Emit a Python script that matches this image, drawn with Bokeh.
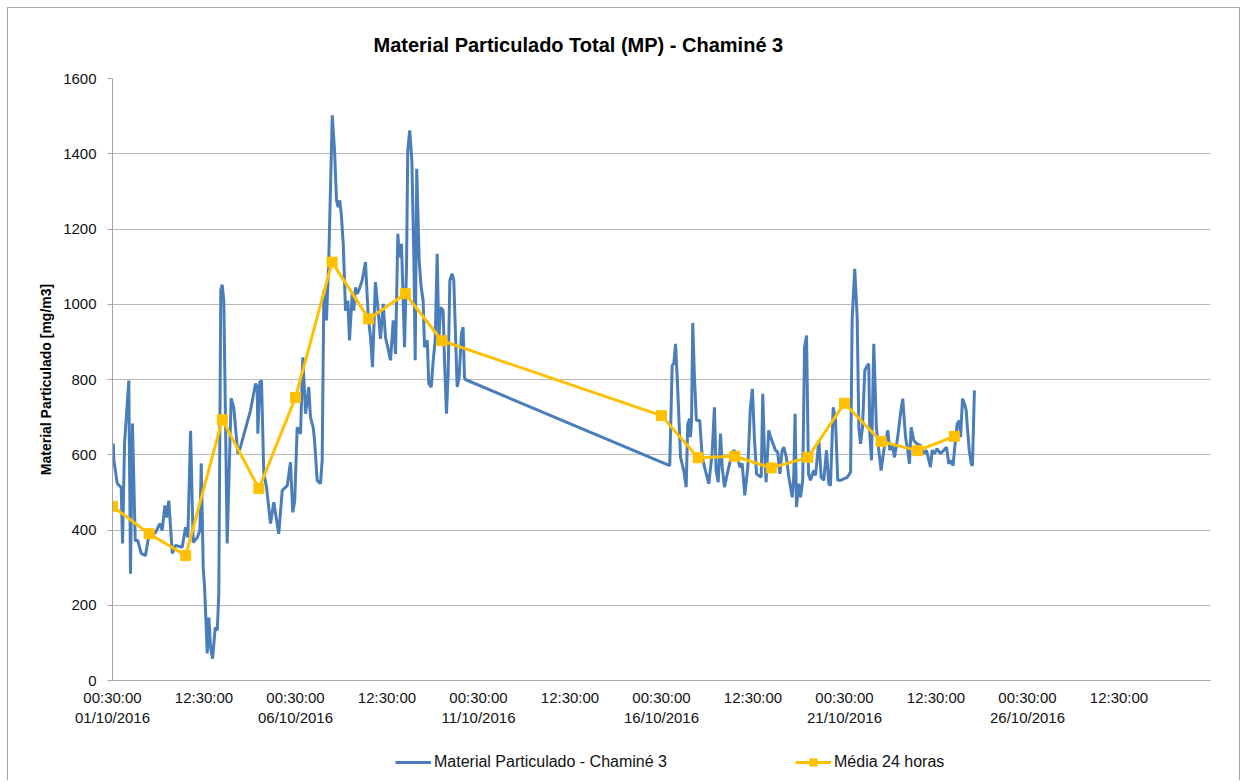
from bokeh.plotting import figure
from bokeh.layouts import column
from bokeh.models import FixedTicker, Legend, LegendItem, Range1d
from bokeh.embed import file_html
from bokeh.resources import INLINE

# Hours since 01/10/2016 00:30:00
hours = [
    0.5, 0.9, 3.1, 5.7, 6.6, 7.9, 10.7, 11.8, 13.1, 14.9,
    16.6, 18.8, 21.6, 23.8, 28.2, 31.0, 32.6, 34.3, 35.4, 36.9,
    39.2, 41.3, 45.7, 47.9, 49.4, 51.2, 52.9, 55.6, 57.3, 58.2,
    59.5, 60.4, 62.1, 63.2, 64.3, 65.6, 67.4, 68.7, 69.7, 71.0,
    71.9, 73.0, 75.2, 77.8, 79.5, 82.2, 83.9, 90.5, 93.8, 94.9,
    95.3, 96.6, 97.7, 99.2, 101.0, 103.6, 105.8, 107.3, 109.0, 111.3,
    114.6, 116.7, 118.2, 119.5, 121.1, 123.3, 124.8, 126.6, 128.7, 129.8,
    131.6, 132.5, 134.2, 136.4, 137.5, 138.6, 140.3, 141.8, 144.1, 145.6,
    146.9, 148.0, 149.0, 150.0, 151.3, 152.8, 154.3, 155.4, 157.2, 158.2,
    159.3, 160.5, 162.2, 163.7, 165.9, 167.7, 169.2, 170.5, 172.4, 174.0,
    175.7, 177.5, 179.0, 180.5, 182.3, 184.1, 185.6, 187.1, 188.2, 189.5,
    191.5, 192.8, 193.6, 194.9, 196.3, 197.6, 198.5, 199.5, 201.1, 202.4,
    203.7, 204.6, 206.4, 207.4, 209.0, 210.3, 211.6, 212.9, 214.0, 215.1,
    216.8, 217.7, 219.0, 220.1, 221.2, 222.7, 223.8, 224.9, 226.0, 227.3,
    228.8, 229.9, 230.8, 231.3, 365.4, 367.0, 368.1, 369.2, 370.3, 372.5,
    374.6, 376.2, 377.2, 378.4, 379.0, 379.7, 380.5, 381.6, 382.9, 385.1,
    386.7, 388.8, 391.0, 393.2, 394.7, 395.8, 397.2, 398.7, 399.8, 401.3,
    403.1, 405.2, 407.4, 409.6, 411.3, 412.9, 414.6, 416.6, 418.3, 419.6,
    420.9, 422.3, 423.8, 425.4, 426.4, 427.5, 428.6, 430.3, 431.5, 433.2,
    434.7, 436.2, 437.6, 439.1, 440.2, 441.9, 443.5, 444.6, 445.7, 446.7,
    447.6, 448.5, 450.0, 451.2, 452.6, 453.8, 455.1, 456.4, 457.7, 459.8,
    461.0, 463.2, 464.7, 466.4, 468.2, 469.7, 470.8, 472.6, 474.1, 475.6,
    477.4, 479.6, 481.8, 484.0, 485.0, 486.7, 488.3, 489.4, 490.5, 491.8,
    493.3, 494.4, 495.9, 496.6, 497.7, 499.2, 500.9, 502.5, 504.0, 505.8,
    508.4, 509.7, 511.2, 512.8, 514.9, 516.7, 518.2, 520.0, 521.5, 522.6,
    523.7, 525.4, 527.6, 529.8, 532.0, 533.7, 535.3, 536.4, 537.5, 539.0,
    540.7, 542.9, 545.1, 546.9, 548.4, 549.5, 551.2, 552.1, 553.9, 555.4,
    556.1, 557.4, 558.7, 559.8, 560.4, 561.8, 563.1, 563.9, 565.2,
]

mp_values = [
    630, 585, 524, 513, 364, 630, 797, 284, 683, 372,
    372, 338, 332, 385, 393, 417, 399, 465, 433, 478,
    338, 359, 354, 407, 380, 664, 367, 380, 399, 577,
    300, 247, 72, 167, 88, 58, 141, 133, 231, 1037,
    1052, 1010, 364, 750, 726, 603, 620, 718, 789, 780,
    656, 793, 797, 550, 514, 417, 474, 434, 390, 505,
    518, 580, 447, 478, 673, 656, 859, 709, 780, 700,
    673, 638, 532, 523, 585, 1037, 957, 1116, 1502, 1409,
    1276, 1258, 1276, 1240, 1161, 983, 1010, 904, 1028, 983,
    1045, 1028, 1045, 1063, 1112, 966, 912, 833, 1059, 992,
    908, 1001, 912, 886, 851, 957, 868, 1187, 1125, 1161,
    886, 1099, 1409, 1462, 1382, 1125, 851, 1360, 1116, 1045,
    1010, 886, 904, 789, 780, 851, 904, 1134, 904, 992,
    983, 851, 709, 815, 1063, 1081, 1063, 921, 780, 806,
    921, 939, 806, 800, 571, 837, 843, 895, 806, 593,
    558, 514, 682, 696, 647, 691, 950, 806, 691, 691,
    593, 558, 523, 603, 726, 558, 527, 656, 567, 514,
    549, 585, 612, 603, 567, 577, 492, 567, 726, 775,
    647, 549, 545, 540, 762, 612, 527, 665, 647, 629,
    612, 607, 549, 612, 620, 593, 540, 514, 487, 540,
    709, 461, 523, 487, 532, 886, 917, 549, 532, 558,
    545, 638, 540, 532, 612, 523, 518, 726, 691, 532,
    532, 536, 540, 554, 957, 1094, 966, 673, 629, 673,
    824, 833, 842, 656, 585, 895, 673, 612, 558, 612,
    665, 612, 630, 593, 647, 709, 749, 647, 612, 576,
    673, 638, 629, 625, 603, 612, 585, 567, 612, 603,
    616, 603, 612, 620, 576, 585, 571, 612, 682, 691,
    647, 749, 735, 718, 682, 612, 576, 571, 771,
]

avg_hours = [0, 24, 48, 72, 96, 120, 144, 168, 192, 216,
             360, 384, 408, 432, 456, 480, 504, 528, 552]
avg_values = [463, 390, 332, 693, 510, 752, 1112, 961, 1028, 903,
              704, 592, 596, 565, 593, 737, 635, 611, 649]

tick_hours = [0, 60, 120, 180, 240, 300, 360, 420, 480, 540, 600, 660]
tick_labels = ["00:30:00\n01/10/2016", "12:30:00",
               "00:30:00\n06/10/2016", "12:30:00",
               "00:30:00\n11/10/2016", "12:30:00",
               "00:30:00\n16/10/2016", "12:30:00",
               "00:30:00\n21/10/2016", "12:30:00",
               "00:30:00\n26/10/2016", "12:30:00"]

title_text = "Material Particulado Total (MP) - Chaminé 3"
y_label = "Material Particulado [mg/m3]"
series_names = ["Material Particulado - Chaminé 3", "Média 24 horas"]

FONT = "Liberation Sans"
BLUE = "#4a7ebb"
YELLOW = "#ffc000"
GRID = "#b8b8b8"
W = 1231

p = figure(width=W, height=732, output_backend="svg", toolbar_location=None,
           x_range=Range1d(0, 720), y_range=Range1d(0, 1600),
           min_border_left=104, min_border_right=29, min_border_top=70,
           min_border_bottom=60)
p.background_fill_color = "white"
p.border_fill_color = "white"
p.outline_line_color = None

p.title.text = title_text
p.title.text_font = FONT
p.title.text_font_size = "20px"
p.title.text_font_style = "bold"
p.title.text_color = "#000000"
p.title.align = "left"
p.title.offset = 261
p.title.standoff = 46

p.line(hours, mp_values, line_color=BLUE, line_width=3)
p.line(avg_hours, avg_values, line_color=YELLOW, line_width=3)
p.scatter(avg_hours, avg_values, marker="square", size=10,
          fill_color=YELLOW, line_color=YELLOW)

xa = p.xaxis[0]
xa.ticker = FixedTicker(ticks=tick_hours)
xa.major_label_overrides = {t: l for t, l in zip(tick_hours, tick_labels)}
xa.major_tick_out = 0
xa.major_tick_in = 0
xa.minor_tick_out = 0
xa.minor_tick_in = 0
xa.axis_line_color = "#a6a6a6"
xa.major_label_text_font = FONT
xa.major_label_text_font_size = "15px"
xa.major_label_text_color = "#111111"
xa.major_label_standoff = 8

ya = p.yaxis[0]
ya.ticker = FixedTicker(ticks=list(range(0, 1601, 200)))
ya.major_tick_out = 5
ya.major_tick_in = 0
ya.minor_tick_out = 0
ya.minor_tick_in = 0
ya.major_tick_line_color = "#a6a6a6"
ya.axis_line_color = "#a6a6a6"
ya.major_label_text_font = FONT
ya.major_label_text_font_size = "15px"
ya.major_label_text_color = "#111111"
ya.major_label_standoff = 11
ya.axis_label = y_label
ya.axis_label_text_font = FONT
ya.axis_label_text_font_size = "14px"
ya.axis_label_text_font_style = "bold"
ya.axis_label_text_color = "#000000"
ya.axis_label_standoff = 6

p.xgrid.grid_line_color = None
p.ygrid.grid_line_color = GRID
p.ygrid.ticker = FixedTicker(ticks=list(range(200, 1601, 200)))

# legend strip below the chart (its series lie outside its own range, so only
# the legend entries are visible)
lg = figure(width=W, height=40, output_backend="svg", toolbar_location=None,
            x_range=Range1d(0, 1), y_range=Range1d(0, 1),
            x_axis_type=None, y_axis_type=None, min_border=0)
lg.outline_line_color = None
lg.xgrid.visible = False
lg.ygrid.visible = False
r_blue = lg.line(hours, mp_values, line_color=BLUE, line_width=3)
r_yl = lg.line(avg_hours, avg_values, line_color=YELLOW, line_width=3)
r_ys = lg.scatter(avg_hours, avg_values, marker="square", size=10,
                  fill_color=YELLOW, line_color=YELLOW)
legend = Legend(items=[LegendItem(label=series_names[0], renderers=[r_blue]),
                       LegendItem(label=series_names[1], renderers=[r_yl, r_ys])],
                orientation="horizontal", location=(283, 9),
                label_text_font=FONT, label_text_font_size="16px",
                label_text_color="#111111", glyph_width=36, glyph_height=18,
                label_standoff=3, spacing=128, border_line_color=None,
                background_fill_alpha=0, margin=0, padding=0)
lg.add_layout(legend, "center")

layout = column(p, lg, spacing=0)
layout.styles = {"margin-left": "7px", "margin-top": "7px",
                 "border-top": "1px solid #a6a6a6",
                 "border-left": "1px solid #a6a6a6",
                 "border-right": "1px solid #a6a6a6"}

open("out.html", "w").write(file_html(layout, INLINE))
